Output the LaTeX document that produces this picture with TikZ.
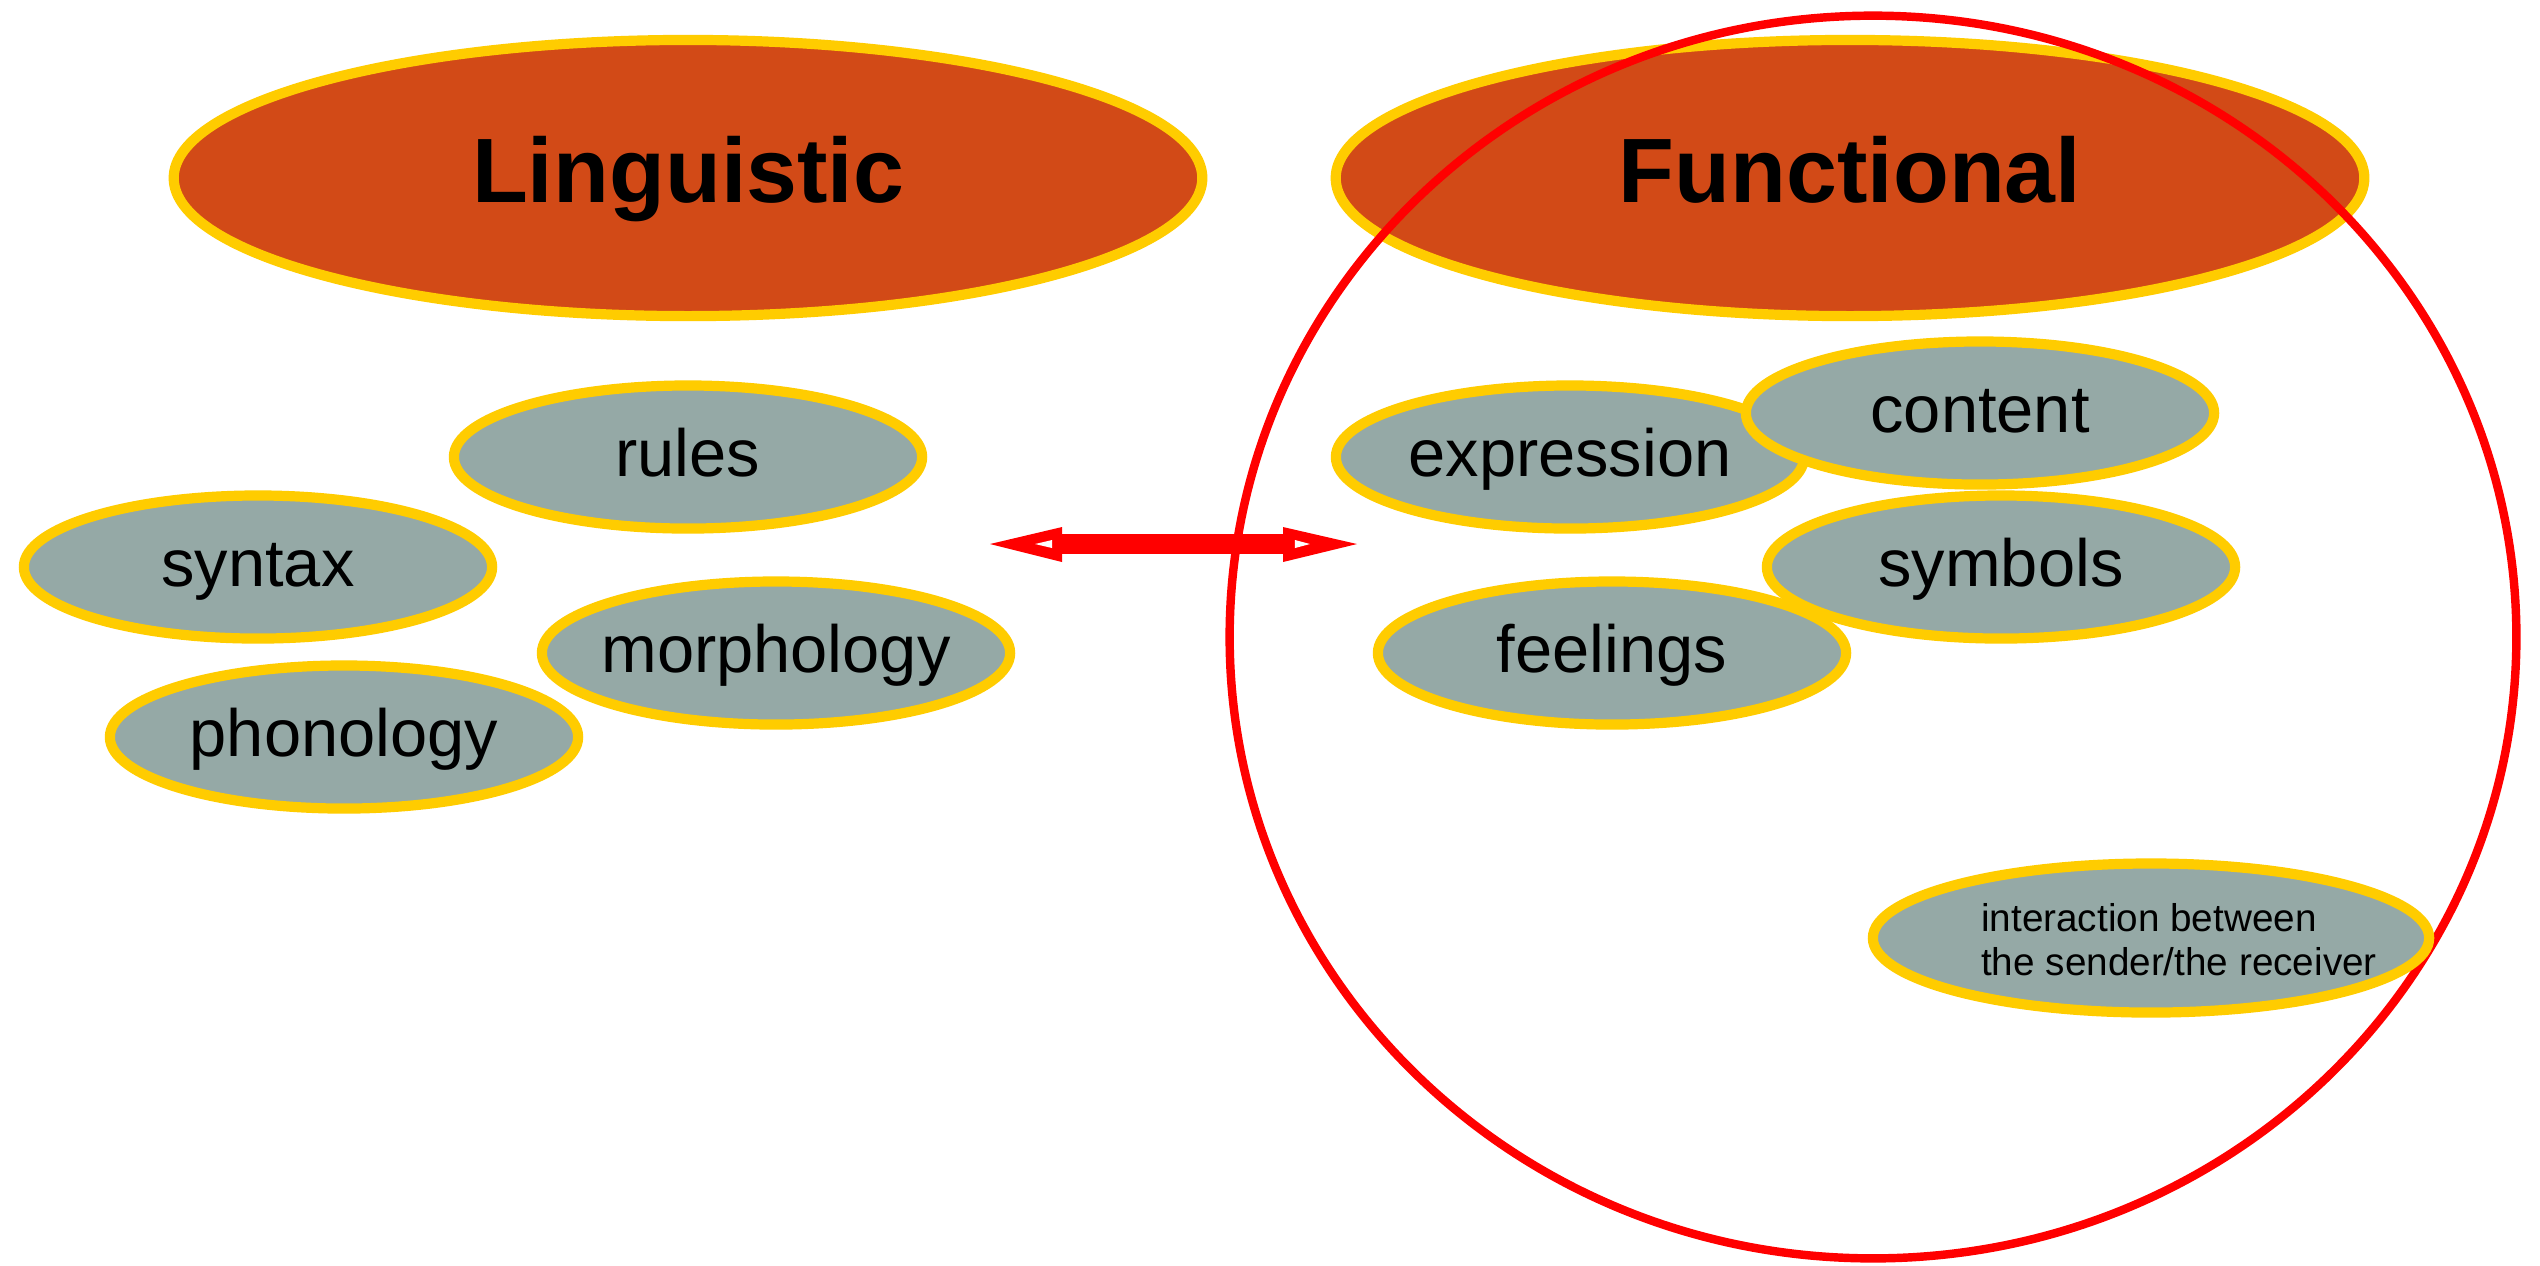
\documentclass[tikz,border=0pt]{standalone}
\usepackage{fontspec}
\setmainfont{Liberation Sans}
\usetikzlibrary{shapes.geometric}
\definecolor{titlefill}{RGB}{210,74,23}
\definecolor{rimyellow}{RGB}{255,204,0}
\definecolor{greyfill}{RGB}{149,169,166}
\newcommand\zwbox[1]{\makebox[0pt][c]{#1}}
\begin{document}
\begin{tikzpicture}[x=0.01cm,y=-0.01cm,
  bigell/.style={ellipse, draw=rimyellow, line width=2.9pt, fill=titlefill, inner sep=0pt,
    minimum width=10.28cm, minimum height=2.76cm,
    font=\fontsize{26}{30}\selectfont\bfseries, text height=1.58em, text depth=0.2em},
  smallell/.style={ellipse, draw=rimyellow, line width=2.9pt, fill=greyfill, inner sep=0pt,
    minimum width=4.68cm, minimum height=1.43cm,
    font=\fontsize{19}{22}\selectfont, text height=1.32em, text depth=0.2em},
  ring/.style={ellipse, draw=red, line width=2.4pt, inner sep=0pt},
]
\useasboundingbox (0,0) rectangle (2540,1265);
\fill[white] (0,0) rectangle (2540,1265);

\node[bigell] (ling) at (688,178) {\zwbox{Linguistic}};
\node[bigell] (func) at (1850,178) {\zwbox{Functional}};
\node[ring, minimum width=12.86cm, minimum height=12.42cm] (circ) at (1873,637) {};

\node[smallell] (rules) at (688,457) {\zwbox{rules}};
\node[smallell] (syntax) at (258,567) {\zwbox{syntax}};
\node[smallell] (morph) at (776,653) {\zwbox{morphology}};
\node[smallell] (phon) at (344,737) {\zwbox{phonology}};

\node[smallell] (expr) at (1570,457) {\zwbox{expression}};
\node[smallell] (content) at (1980,413) {\zwbox{content}};
\node[smallell] (feel) at (1612,653) {\zwbox{feelings}};
\node[smallell] (symb) at (2001,567) {\zwbox{symbols}};
\node[smallell, minimum width=5.56cm, minimum height=1.49cm, text height=0pt, text depth=0pt,
      font=\fontsize{11}{12.5}\selectfont] (inter) at (2151,938)
  {\zwbox{\hspace*{0.56cm}\raisebox{-0.16cm}[0pt][0pt]{\begin{tabular}{@{}l@{}}interaction between\\the sender/the receiver\end{tabular}}}};

% double arrow
\coordinate (aL) at (990,544);
\coordinate (aR) at (1357,544);
\fill[red] (aL) -- ++(72,-17) -- ++(0,35) -- cycle;
\fill[red] (aR) -- ++(-74,-17) -- ++(0,35) -- cycle;
\fill[red] ([xshift=0.70cm,yshift=0.10cm]aL) rectangle ([xshift=-0.72cm,yshift=-0.10cm]aR);
\fill[white] ([xshift=0.45cm]aL) -- ++(17,-4) -- ++(0,8) -- cycle;
\fill[white] ([xshift=-0.47cm]aR) -- ++(-15,-4) -- ++(0,8) -- cycle;
\end{tikzpicture}
\end{document}
